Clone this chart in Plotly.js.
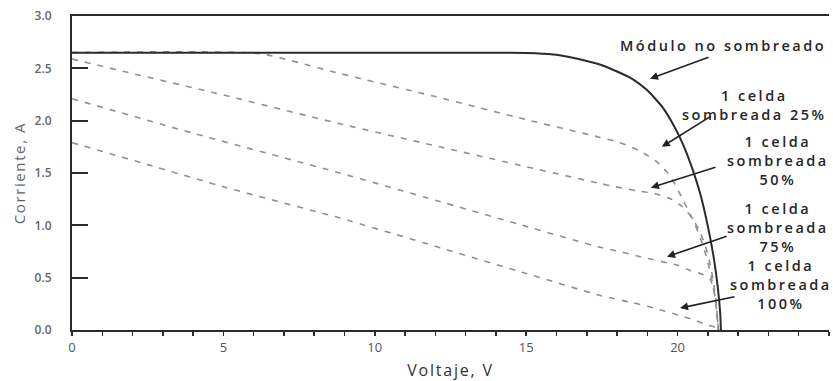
<!DOCTYPE html>
<html>
<head>
<meta charset="utf-8">
<script src="https://cdn.plot.ly/plotly-3.0.1.min.js"></script>
<style>
  html, body { margin: 0; padding: 0; background: #fff; }
  #chart { width: 833px; height: 381px; }
  .annotation-text { letter-spacing: 2.5px; }
  .xtitle { letter-spacing: 1.8px; }
  .ytitle { letter-spacing: 1.6px; }
</style>
</head>
<body>
<div id="chart"></div>
<script>
// ---- Data ----
// Módulo no sombreado (solid)
const vModulo = [0, 14.5, 15.3, 16.0, 17.0, 17.5, 18.0, 18.5, 19.0, 19.5, 19.9, 20.2, 20.5, 20.75, 21.0, 21.2, 21.33, 21.41, 21.43];
const iModulo = [2.65, 2.65, 2.645, 2.63, 2.57, 2.53, 2.47, 2.40, 2.29, 2.13, 1.94, 1.76, 1.53, 1.30, 0.99, 0.68, 0.40, 0.15, 0.0];

// 1 celda sombreada 25%
const v25 = [0, 6.2, 8.85, 12, 15, 17.44, 18.1, 18.76, 19.3, 19.65, 19.9, 20.18, 20.48, 20.74, 20.95, 21.12, 21.25, 21.34];
const i25 = [2.65, 2.64, 2.45, 2.23, 2.01, 1.84, 1.79, 1.71, 1.61, 1.51, 1.40, 1.24, 1.07, 0.89, 0.70, 0.50, 0.28, 0.0];

// 1 celda sombreada 50%
const v50 = [0, 2, 4.65, 8.85, 12, 15, 17.44, 18.1, 18.66, 19.3, 19.8, 20.15, 20.45, 20.7, 20.9, 21.05, 21.18, 21.28, 21.35];
const i50 = [2.59, 2.45, 2.27, 1.97, 1.76, 1.56, 1.40, 1.36, 1.33, 1.30, 1.25, 1.18, 1.08, 0.96, 0.82, 0.66, 0.47, 0.24, 0.0];

// 1 celda sombreada 75%
const v75 = [0, 4.0, 8.85, 12, 15, 17.44, 18.1, 18.76, 19.98, 20.41, 20.84, 21.07, 21.22, 21.3, 21.35];
const i75 = [2.21, 1.88, 1.50, 1.24, 0.99, 0.79, 0.75, 0.70, 0.62, 0.57, 0.53, 0.49, 0.35, 0.15, 0.0];

// 1 celda sombreada 100%
const v100 = [0, 2.5, 5.1, 8.85, 12, 15, 17.44, 18.53, 19.09, 20.51, 20.97, 21.3, 21.36];
const i100 = [1.79, 1.58, 1.36, 1.07, 0.80, 0.54, 0.33, 0.26, 0.22, 0.10, 0.05, 0.02, 0.0];

const xTickVals = [0, 5, 10, 15, 20, 25];
const xTickText = ['0', '5', '10', '15', '20', '25'];
const yTickVals = [0, 0.5, 1.0, 1.5, 2.0, 2.5, 3.0];
const yTickText = ['0.0', '0.5', '1.0', '1.5', '2.0', '2.5', '3.0'];

const labelTexts = [
  'Módulo no sombreado',
  '1 celda<br>sombreada 25%',
  '1 celda<br>sombreada<br>50%',
  '1 celda<br>sombreada<br>75%',
  '1 celda<br>sombreada<br>100%'
];

// ---- Styles ----
const dashStyle = { color: '#909090', width: 1.6, dash: '6px,7px', shape: 'spline', smoothing: 0.5 };
const solidStyle = { color: '#2b2b2b', width: 2, shape: 'spline', smoothing: 0.5 };

const traces = [
  { x: v25, y: i25, name: '25%', mode: 'lines', line: dashStyle },
  { x: v50, y: i50, name: '50%', mode: 'lines', line: dashStyle },
  { x: v75, y: i75, name: '75%', mode: 'lines', line: dashStyle },
  { x: v100, y: i100, name: '100%', mode: 'lines', line: dashStyle },
  { x: vModulo, y: iModulo, name: 'Módulo no sombreado', mode: 'lines', line: solidStyle }
];

const txtFont = { family: 'Open Sans, sans-serif', size: 14.5, color: '#262626', weight: 600 };
function label(x, y, text) {
  return { x: x, y: y, xref: 'x', yref: 'y', text: text, showarrow: false,
           xanchor: 'center', yanchor: 'middle', align: 'center', font: txtFont, borderpad: 0 };
}
function arrow(x, y, ax, ay) {
  return { x: x, y: y, ax: ax, ay: ay, xref: 'x', yref: 'y', axref: 'x', ayref: 'y',
           text: '', showarrow: true, arrowhead: 2, arrowsize: 1, arrowwidth: 1.6,
           arrowcolor: '#222', standoff: 0, startstandoff: 0 };
}

const annotations = [
  label(21.5, 2.72, labelTexts[0]),
  label(22.55, 2.145, labelTexts[1]),
  label(23.3, 1.62, labelTexts[2]),
  label(23.3, 0.98, labelTexts[3]),
  label(23.4, 0.43, labelTexts[4]),
  arrow(19.09, 2.40, 21.07, 2.61),
  arrow(19.48, 1.75, 21.14, 2.05),
  arrow(19.12, 1.36, 21.30, 1.56),
  arrow(19.65, 0.70, 21.67, 0.90),
  arrow(20.08, 0.21, 21.93, 0.32)
];

const layout = {
  width: 833, height: 381,
  margin: { l: 72, r: 4, t: 16, b: 51 },
  paper_bgcolor: '#fff', plot_bgcolor: '#fff',
  showlegend: false,
  font: { family: 'Open Sans, sans-serif', color: '#555' },
  xaxis: {
    range: [0, 25], tickvals: xTickVals, ticktext: xTickText,
    showline: true, linecolor: '#2b2b2b', linewidth: 2, mirror: true,
    ticks: 'outside', ticklen: 4, tickwidth: 1.5, tickcolor: '#2b2b2b',
    minor: { dtick: 1, tick0: 0, ticks: 'outside', ticklen: 4, tickwidth: 1.5, tickcolor: '#2b2b2b', showgrid: false },
    showgrid: false, zeroline: false,
    tickfont: { size: 13, color: '#555' },
    title: { text: 'Voltaje, V', font: { size: 16, color: '#333' }, standoff: 14 },
    automargin: false
  },
  yaxis: {
    range: [0, 3], tickvals: yTickVals, ticktext: yTickText,
    showline: true, linecolor: '#2b2b2b', linewidth: 2,
    ticks: 'inside', ticklen: 16, tickwidth: 2, tickcolor: '#2b2b2b',
    showgrid: false, zeroline: false,
    tickfont: { size: 12, color: '#666', weight: 600 },
    ticklabelstandoff: 16,
    title: { text: 'Corriente, A', font: { size: 15, color: '#666' }, standoff: 5 },
    automargin: false
  },
  annotations: annotations
};

Plotly.newPlot('chart', traces, layout, { displayModeBar: false, staticPlot: true });
</script>
</body>
</html>
